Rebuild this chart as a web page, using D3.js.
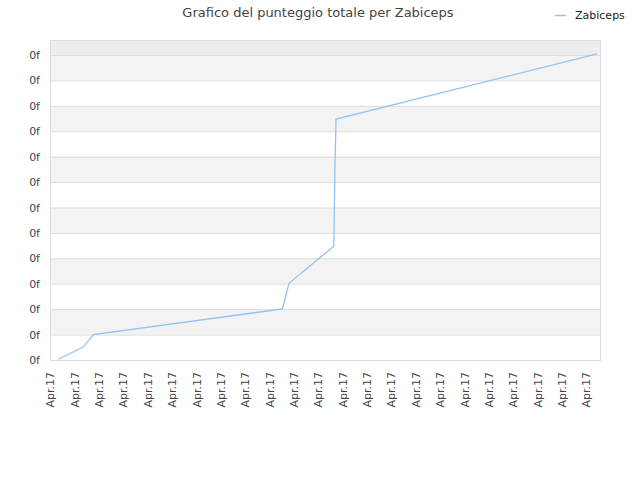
<!DOCTYPE html>
<html lang="it">
<meta charset="UTF-8">
<title>Grafico del punteggio totale per Zabiceps</title>
<script src="https://d3js.org/d3.v7.min.js"></script>
<style>
  body { margin: 0; background: #fff; font-family: "DejaVu Sans", sans-serif; }
</style>
<body>
<div id="chart"></div>
<script>
// data (x = tick index, y = grid step)
var tickLabels = d3.range(23).map(function () { return "Apr.17"; });
var yTicks = d3.range(13);
var seriesName = "Zabiceps";
var seriesX = [0.34, 1.38, 1.78, 9.54, 9.81, 11.65, 11.66, 11.70, 11.74, 22.45];
var seriesY = [0.03, 0.52, 1.00, 2.01, 3.02, 4.48, 5.24, 7.71, 9.48, 12.04];

var margin = {top: 40, right: 40, bottom: 120, left: 50},
    width = 640 - margin.left - margin.right,
    height = 480 - margin.top - margin.bottom;

var svg = d3.select("#chart")
  .append("svg")
    .attr("width", 640)
    .attr("height", 480);

var g = svg.append("g")
    .attr("transform", "translate(" + margin.left + "," + margin.top + ")");

var x = d3.scaleLinear()
  .domain([0, 22.575])
  .range([0, width]);

var y = d3.scaleLinear()
  .domain([0, 12.59])
  .range([height, 0]);

// alternating bands
var bandEdges = yTicks.concat([12.59]);
g.append("g")
  .selectAll("rect")
  .data(bandEdges.slice(0, -1))
  .enter()
  .append("rect")
    .attr("x", 0)
    .attr("width", width)
    .attr("y", function (d, i) { return y(bandEdges[i + 1]); })
    .attr("height", function (d, i) { return y(d) - y(bandEdges[i + 1]); })
    .style("fill", function (d, i) {
      if (i == 12) return "#eeeeee";
      return i % 2 == 1 ? "#f3f3f3" : "#ffffff";
    });

// grid lines
g.append("g")
  .selectAll("line")
  .data(yTicks)
  .enter()
  .append("line")
    .attr("x1", 0)
    .attr("x2", width)
    .attr("y1", function (d) { return y(d) + 0.5; })
    .attr("y2", function (d) { return y(d) + 0.5; })
    .style("stroke", "#dddddd");

// frame
g.append("rect")
  .attr("x", 0.5)
  .attr("y", 0.5)
  .attr("width", width)
  .attr("height", height)
  .style("fill", "none")
  .style("stroke", "#dddddd");

// Y axis
var yAxis = g.append("g")
  .call(d3.axisLeft(y).tickValues(yTicks).tickSize(0).tickPadding(10).tickFormat(function () { return "0f"; }));
yAxis.select(".domain").remove();
yAxis.selectAll("text")
  .style("font-family", "DejaVu Sans, sans-serif")
  .style("font-size", "11px")
  .style("fill", "#444");

// X axis
var xAxis = g.append("g")
  .attr("transform", "translate(0," + height + ")")
  .call(d3.axisBottom(x).tickValues(d3.range(tickLabels.length)).tickSize(0)
    .tickFormat(function (d) { return tickLabels[d]; }));
xAxis.select(".domain").remove();
xAxis.selectAll("text")
  .attr("transform", "rotate(-90)")
  .attr("x", -12)
  .attr("y", 0)
  .attr("dy", "0.35em")
  .style("text-anchor", "end")
  .style("font-family", "DejaVu Sans, sans-serif")
  .style("font-size", "11px")
  .style("fill", "#444");

// line
var line = d3.line()
  .x(function (d, i) { return x(seriesX[i]); })
  .y(function (d, i) { return y(seriesY[i]); });

g.append("path")
  .datum(seriesY)
  .attr("d", line)
  .style("fill", "none")
  .style("stroke", "#90c3f5")
  .style("stroke-width", 1.3);

// title
svg.append("text")
  .attr("x", 318)
  .attr("y", 17)
  .style("text-anchor", "middle")
  .style("font-family", "DejaVu Sans, sans-serif")
  .style("font-size", "13px")
  .style("fill", "#444")
  .text("Grafico del punteggio totale per Zabiceps");

// legend
svg.append("line")
  .attr("x1", 555)
  .attr("x2", 566)
  .attr("y1", 15.5)
  .attr("y2", 15.5)
  .style("stroke", "#90c3f5")
  .style("stroke-width", 1.5);
svg.append("text")
  .attr("x", 575)
  .attr("y", 19)
  .style("font-family", "DejaVu Sans, sans-serif")
  .style("font-size", "11px")
  .style("fill", "#222")
  .text(seriesName);
</script>
</body>
</html>
